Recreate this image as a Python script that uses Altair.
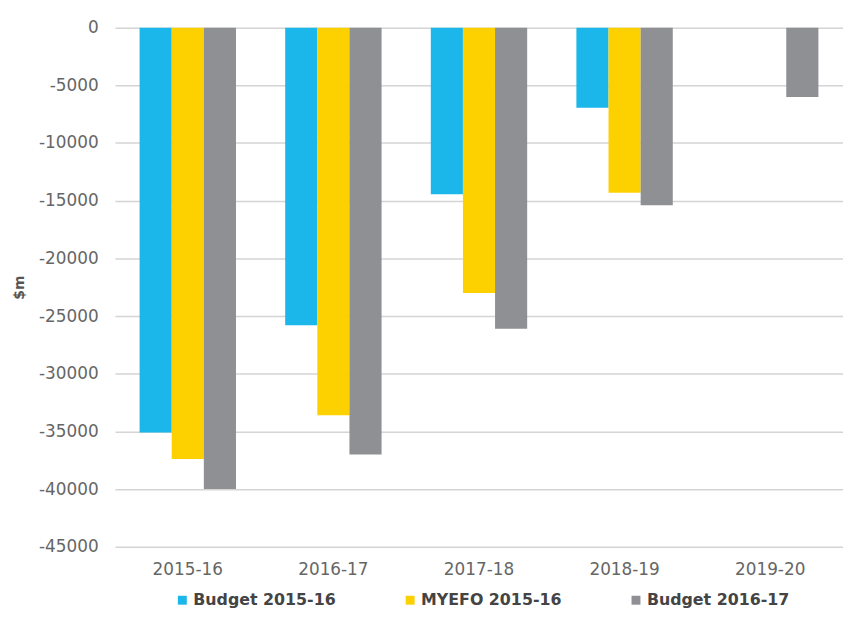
import altair as alt
import pandas as pd

years = ["2015-16", "2016-17", "2017-18", "2018-19", "2019-20"]
series = ["Budget 2015-16", "MYEFO 2015-16", "Budget 2016-17"]
budget_1516 = [-35100, -25800, -14450, -6950, None]
myefo_1516 = [-37400, -33600, -23000, -14300, None]
budget_1617 = [-40000, -37000, -26100, -15400, -6000]
colors = ["#1bb7ea", "#fdd000", "#8e9094"]
y_ticks = [0, -5000, -10000, -15000, -20000, -25000, -30000, -35000, -40000, -45000]

rows = []
for name, vals in zip(series, [budget_1516, myefo_1516, budget_1617]):
    for yr, v in zip(years, vals):
        if v is not None:
            rows.append({"year": yr, "series": name, "value": v})
df = pd.DataFrame(rows)

FONT = "DejaVu Sans"

chart = alt.Chart(df).mark_bar().encode(
    x=alt.X(
        "year:N", sort=years,
        scale=alt.Scale(paddingInner=0.338, paddingOuter=0.169),
        axis=alt.Axis(title=None, labelAngle=0, domain=False, ticks=False,
                      labelPadding=15, labelFontSize=17, labelColor="#666666",
                      labelFont=FONT, grid=False),
    ),
    xOffset=alt.XOffset("series:N", sort=series, scale=alt.Scale(domain=series)),
    y=alt.Y(
        "value:Q",
        scale=alt.Scale(domain=[-45000, 0], nice=False),
        axis=alt.Axis(values=y_ticks, labelExpr="'' + datum.value", domain=False,
                      ticks=False, labelPadding=17, labelFontSize=17,
                      labelColor="#666666", labelFont=FONT, gridColor="#d4d4d4",
                      gridWidth=1.5, title="$m", titleFont=FONT, titleFontSize=14,
                      titleFontWeight="bold", titleColor="#555555", titleX=-96,
                      titleY=262, titleAngle=-90, titleAlign="center",
                      titleBaseline="middle"),
    ),
    color=alt.Color(
        "series:N", sort=series,
        scale=alt.Scale(domain=series, range=colors),
        legend=alt.Legend(title=None, orient="none", legendX=60, legendY=570,
                          direction="horizontal", columns=3, symbolType="square",
                          symbolSize=81, symbolStrokeWidth=0, labelFont=FONT,
                          labelFontSize=16, labelFontWeight="bold",
                          labelColor="#444444", labelOffset=3, columnPadding=67,
                          padding=0),
    ),
).properties(
    width=735, height=524,
    autosize=alt.AutoSizeParams(type="none"),
    padding={"left": 108, "top": 17, "right": 0, "bottom": 63},
).configure_view(stroke=None)

chart.save("out.html", embed_options={"renderer": "svg", "actions": False})
